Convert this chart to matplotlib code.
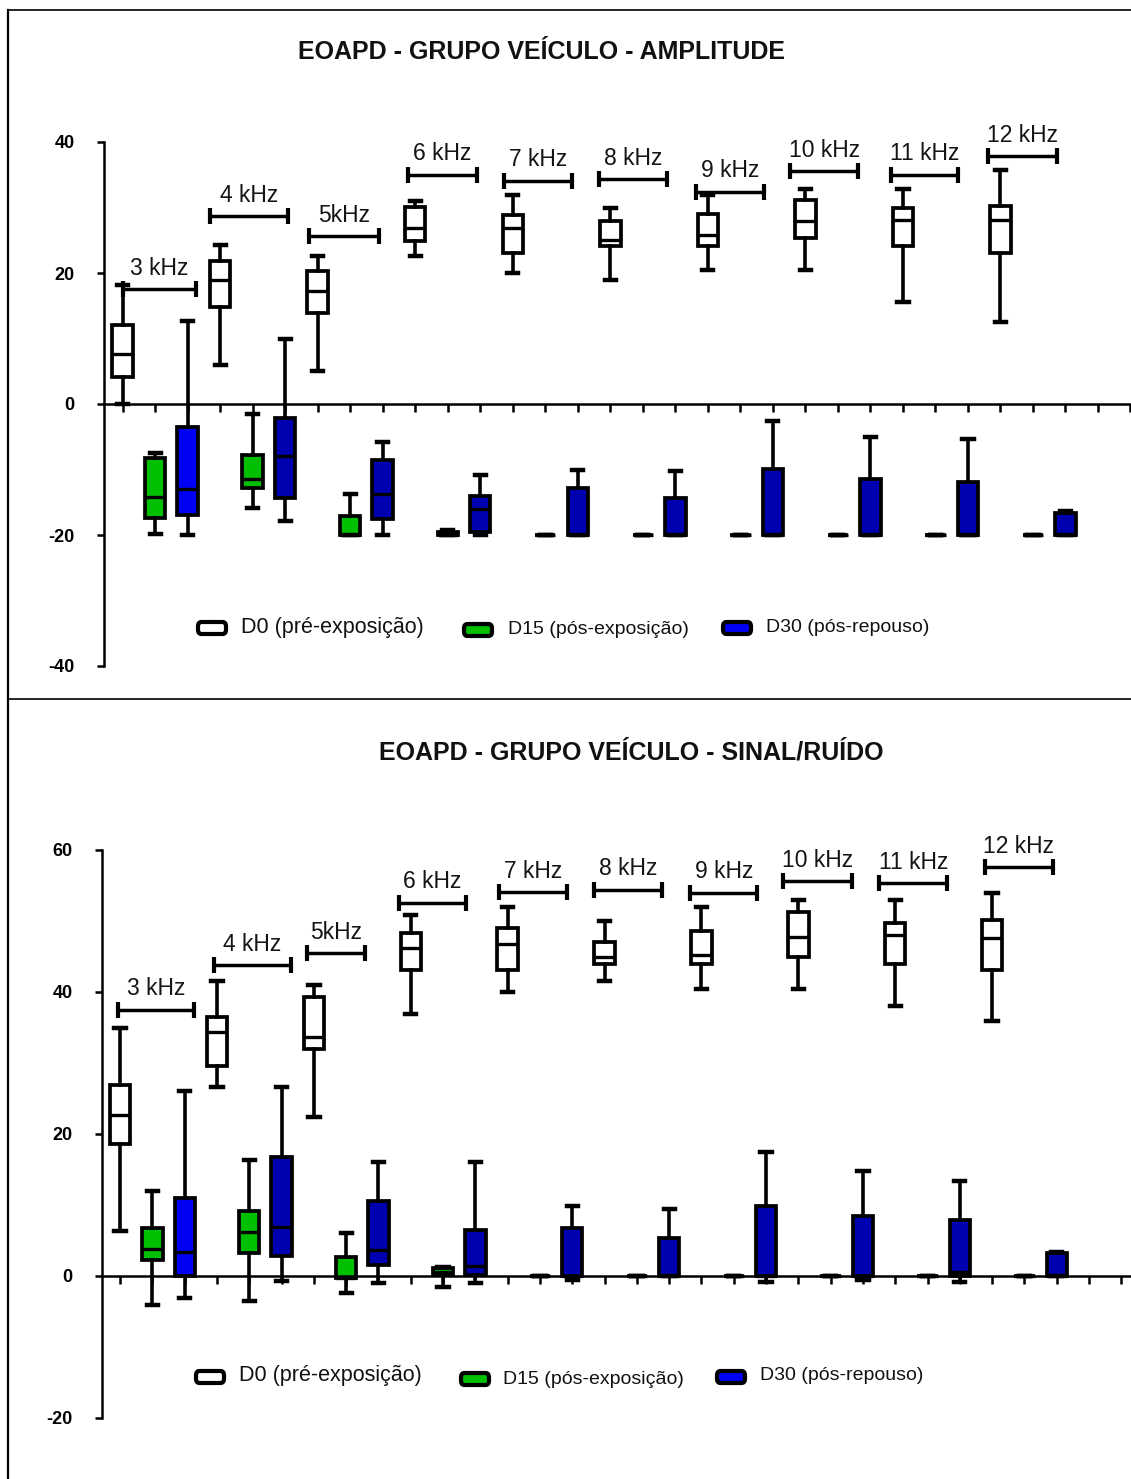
import matplotlib
matplotlib.use('Agg')
import matplotlib.pyplot as plt
from matplotlib.lines import Line2D
from matplotlib.patches import FancyBboxPatch

plt.rcParams['font.family'] = ['Liberation Sans', 'DejaVu Sans']

# frequency groups
freqs = ['3 kHz', '4 kHz', '5kHz', '6 kHz', '7 kHz', '8 kHz', '9 kHz', '10 kHz', '11 kHz', '12 kHz']
legend_labels = ['D0 (pré-exposição)', 'D15 (pós-exposição)', 'D30 (pós-repouso)']

# --- AMPLITUDE: whisker low, q1, median, q3, whisker high ---
amp_d0_lo = [0.0, 6.0, 5.0, 22.6, 20.0, 18.9, 20.4, 20.4, 15.5, 12.5]
amp_d0_q1 = [4.1, 14.8, 13.9, 24.9, 23.1, 24.1, 24.1, 25.3, 24.1, 23.1]
amp_d0_med = [7.7, 19.0, 17.2, 26.8, 26.8, 25.0, 25.8, 27.9, 28.1, 28.1]
amp_d0_q3 = [12.0, 21.9, 20.3, 30.1, 28.9, 28.0, 29.0, 31.2, 29.9, 30.3]
amp_d0_hi = [18.1, 24.2, 22.6, 31.0, 31.9, 29.9, 31.9, 32.9, 32.9, 35.8]

amp_d15_lo = [-19.9, -15.9, -20, -20, -20, -20, -20, -20, -20, -20]
amp_d15_q1 = [-17.4, -12.9, -20, -20, -20, -20, -20, -20, -20, -20]
amp_d15_med = [-14.2, -11.4, -20, -20, -20, -20, -20, -20, -20, -20]
amp_d15_q3 = [-8.3, -7.8, -17.1, -19.6, -20, -20, -20, -20, -20, -20]
amp_d15_hi = [-7.5, -1.5, -13.8, -19.3, -20, -20, -20, -20, -20, -20]

amp_d30_lo = [-20, -17.9, -20, -20, -20, -20, -20, -20, -20, -20]
amp_d30_q1 = [-16.9, -14.3, -17.6, -19.5, -20, -20, -20, -20, -20, -20]
amp_d30_med = [-13.0, -8.0, -13.8, -16.1, -20, -20, -20, -20, -20, -20]
amp_d30_q3 = [-3.5, -2.2, -8.6, -14.1, -12.8, -14.3, -9.9, -11.4, -11.9, -16.7]
amp_d30_hi = [12.6, 9.9, -5.8, -10.9, -10.0, -10.3, -2.6, -5.1, -5.4, -16.3]

# bracket extents (box position units) and heights for the frequency labels
amp_br_start = [1.0, 3.69, 6.74, 9.79, 12.73, 15.66, 18.65, 21.53, 24.63, 27.63]
amp_br_end = [3.25, 6.08, 8.89, 11.89, 14.83, 17.76, 20.73, 23.63, 26.71, 29.74]
amp_br_y = [17.5, 28.7, 25.6, 35.0, 34.1, 34.3, 32.4, 35.5, 35.0, 37.8]

# --- SINAL/RUIDO ---
snr_d0_lo = [6.4, 26.6, 22.4, 36.9, 40.0, 41.5, 40.4, 40.4, 38.0, 35.9]
snr_d0_q1 = [18.6, 29.6, 32.0, 43.1, 43.1, 43.9, 44.0, 44.9, 43.9, 43.1]
snr_d0_med = [22.7, 34.4, 33.6, 46.2, 46.7, 45.0, 45.2, 47.8, 48.0, 47.6]
snr_d0_q3 = [26.9, 36.5, 39.3, 48.3, 49.0, 47.1, 48.6, 51.2, 49.7, 50.1]
snr_d0_hi = [35.0, 41.5, 41.0, 50.9, 52.0, 50.0, 52.0, 53.0, 53.0, 54.0]

snr_d15_lo = [-4.1, -3.5, -2.4, -1.5, 0, 0, 0, 0, 0, 0]
snr_d15_q1 = [2.2, 3.3, -0.3, 0.1, 0, 0, 0, 0, 0, 0]
snr_d15_med = [3.8, 6.2, -0.3, 0.6, 0, 0, 0, 0, 0, 0]
snr_d15_q3 = [6.7, 9.1, 2.7, 1.1, 0, 0, 0, 0, 0, 0]
snr_d15_hi = [12.0, 16.3, 6.0, 1.3, 0, 0, 0, 0, 0, 0]

snr_d30_lo = [-3.1, -0.7, -1.0, -1.0, -0.5, 0, -0.8, -0.6, -0.9, 0]
snr_d30_q1 = [0, 2.8, 1.5, 0.1, 0, 0, 0, 0, 0, 0]
snr_d30_med = [3.4, 6.9, 3.6, 1.4, 0, 0, 0, 0, 0.6, 0]
snr_d30_q3 = [11.0, 16.8, 10.6, 6.5, 6.8, 5.4, 9.9, 8.4, 7.9, 3.3]
snr_d30_hi = [26.0, 26.6, 16.0, 16.0, 9.9, 9.5, 17.4, 14.8, 13.4, 3.4]

snr_br_start = [0.92, 3.91, 6.78, 9.62, 12.74, 15.67, 18.65, 21.54, 24.51, 27.78]
snr_br_end = [3.29, 6.28, 8.59, 11.71, 14.85, 17.79, 20.73, 23.65, 26.61, 29.88]
snr_br_y = [37.5, 43.8, 45.5, 52.6, 54.1, 54.4, 54.0, 55.6, 55.3, 57.6]

GREEN = '#00BE00'
BLUE = '#0000F5'
DARK_BLUE = '#0000B0'

W, H = 1131, 1479


def fx(x):
    return x / W


def fy(y):
    return 1 - y / H


def make_stats(lo, q1, med, q3, hi):
    return [dict(whislo=a, q1=b, med=c, q3=d, whishi=e, fliers=[])
            for a, b, c, d, e in zip(lo, q1, med, q3, hi)]


def draw_panel(ax, series, br_start, br_end, br_y, ylim, yticks, xlim):
    n = len(freqs)
    facecolors = [['white'] * n, [GREEN] * n, [BLUE] + [DARK_BLUE] * (n - 1)]
    for k, s in enumerate(series):
        pos = [3 * i + k + 1 for i in range(n)]
        bp = ax.bxp(make_stats(*s), positions=pos, widths=0.63, capwidths=0.35,
                    patch_artist=True, showfliers=False, manage_ticks=False,
                    boxprops=dict(edgecolor='black', linewidth=2.7),
                    medianprops=dict(color='black', linewidth=2.4),
                    whiskerprops=dict(color='black', linewidth=2.6),
                    capprops=dict(color='black', linewidth=3.2))
        for patch, c in zip(bp['boxes'], facecolors[k]):
            patch.set_facecolor(c)

    # frequency brackets
    for lab, s, e, y in zip(freqs, br_start, br_end, br_y):
        mid = (s + e) / 2
        ax.errorbar(mid, y, xerr=(e - s) / 2, fmt='none', ecolor='black',
                    elinewidth=2.5, capsize=5.5, capthick=3.0, clip_on=False)
        ax.annotate(lab, xy=(mid, y), xytext=(0, 15), textcoords='offset points',
                    ha='center', va='center', fontsize=16.5, color='#141414')

    ax.set_xlim(*xlim)
    ax.set_ylim(*ylim)
    ax.set_yticks(yticks)
    ax.set_yticklabels([str(t) for t in yticks], fontweight='bold', fontsize=13)
    ax.set_xticks(range(1, 33))
    ax.set_xticklabels([])
    ax.spines['top'].set_visible(False)
    ax.spines['right'].set_visible(False)
    ax.spines['bottom'].set_position(('data', 0))
    ax.spines['left'].set_linewidth(1.8)
    ax.spines['bottom'].set_linewidth(1.8)
    ax.tick_params(axis='y', direction='out', length=5, width=1.8, pad=16)
    ax.tick_params(axis='x', direction='out', length=5.5, width=1.8)
    ax.patch.set_alpha(0)


def draw_legend(fig, keys_x, key_y, text_x, text_y, sizes):
    colors = ['white', GREEN, BLUE]
    for lab, kx, ky, tx, ty, c, fs in zip(legend_labels, keys_x, key_y, text_x, text_y, colors, sizes):
        fig.patches.append(FancyBboxPatch((fx(kx), fy(ky + 6)), 28 / W, 12 / H,
                                          boxstyle='round,pad=0,rounding_size=0.003',
                                          transform=fig.transFigure, facecolor=c,
                                          edgecolor='black', linewidth=3.0))
        fig.text(fx(tx), fy(ty), lab, ha='left', va='center', fontsize=fs, color='#111111')


fig = plt.figure(figsize=(W / 100, H / 100), dpi=100)

ax1 = fig.add_axes([fx(104), fy(666), (W - 104) / W, (666 - 142) / H])
draw_panel(ax1,
           [(amp_d0_lo, amp_d0_q1, amp_d0_med, amp_d0_q3, amp_d0_hi),
            (amp_d15_lo, amp_d15_q1, amp_d15_med, amp_d15_q3, amp_d15_hi),
            (amp_d30_lo, amp_d30_q1, amp_d30_med, amp_d30_q3, amp_d30_hi)],
           amp_br_start, amp_br_end, amp_br_y, (-40, 40), [-40, -20, 0, 20, 40], (0.425, 32.02))

ax2 = fig.add_axes([fx(101.7), fy(1418), (W - 101.7) / W, (1418 - 850) / H])
draw_panel(ax2,
           [(snr_d0_lo, snr_d0_q1, snr_d0_med, snr_d0_q3, snr_d0_hi),
            (snr_d15_lo, snr_d15_q1, snr_d15_med, snr_d15_q3, snr_d15_hi),
            (snr_d30_lo, snr_d30_q1, snr_d30_med, snr_d30_q3, snr_d30_hi)],
           snr_br_start, snr_br_end, snr_br_y, (-20, 60), [-20, 0, 20, 40, 60], (0.43, 32.3))

# titles
fig.text(fx(541), fy(52), 'EOAPD - GRUPO VEÍCULO - AMPLITUDE', ha='center', va='center',
         fontsize=18, fontweight='bold', color='#111111')
fig.text(fx(631), fy(752), 'EOAPD - GRUPO VEÍCULO - SINAL/RUÍDO', ha='center', va='center',
         fontsize=18, fontweight='bold', color='#111111')

# legends
draw_legend(fig, [198, 464, 723], [628, 630, 628], [241, 508, 766], [628, 630, 628], [15.5, 14, 14])
draw_legend(fig, [196, 461, 717], [1377, 1379, 1377], [239, 503, 760], [1376, 1379, 1376], [15.5, 14, 14])

# page frame lines
fig.lines.append(Line2D([fx(8), fx(8)], [fy(10), fy(H)], transform=fig.transFigure, color='black', lw=1.6))
fig.lines.append(Line2D([fx(8), fx(W)], [fy(10), fy(10)], transform=fig.transFigure, color='black', lw=1.2))
fig.lines.append(Line2D([fx(8), fx(W)], [fy(699), fy(699)], transform=fig.transFigure, color='black', lw=1.2))

fig.savefig('out.png', dpi=100)
